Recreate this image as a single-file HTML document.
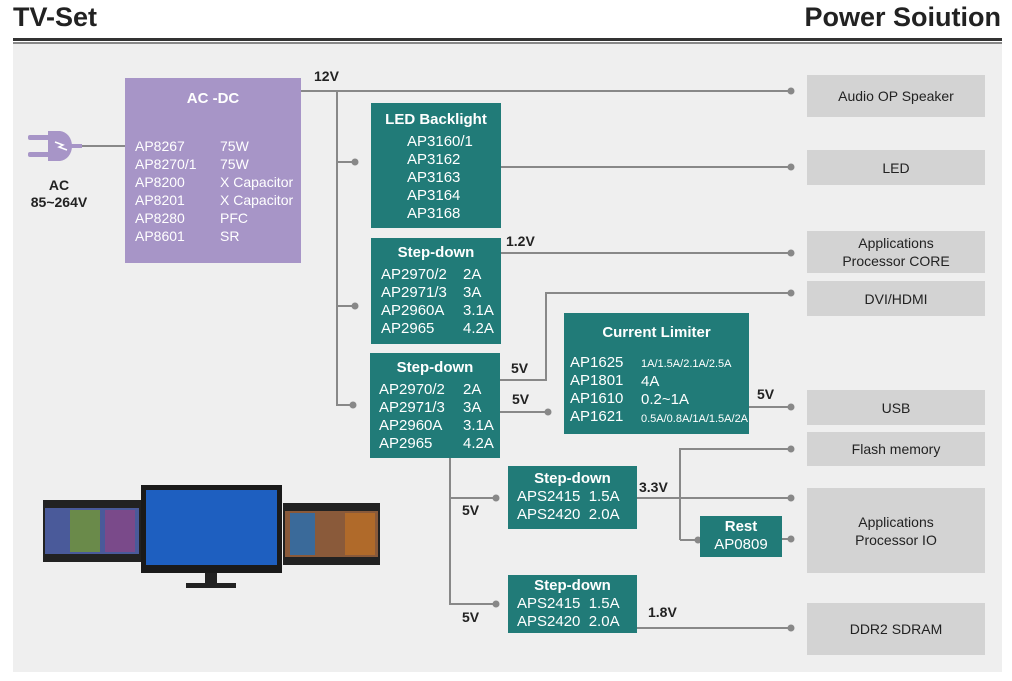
<!DOCTYPE html>
<html><head><meta charset="utf-8"><style>
*{margin:0;padding:0;box-sizing:border-box}
body{width:1012px;height:681px;background:#fff;position:relative;overflow:hidden;font-family:"Liberation Sans",Arial,sans-serif}
.a{position:absolute}
.t{background:#217b78;color:#fff;font-size:15px;line-height:18px}
.t b{display:block;text-align:center;font-size:15px}
.g{background:#d3d3d3;color:#222;font-size:14px;display:flex;align-items:center;justify-content:center;text-align:center;line-height:18px}
.lbl{position:absolute;font-size:14px;font-weight:bold;color:#222}
</style></head><body>
<div class="a" style="left:13px;top:2px;font-size:27px;font-weight:bold;color:#222">TV-Set</div>
<div class="a" style="right:11px;top:2px;font-size:27px;font-weight:bold;color:#222">Power Soiution</div>
<div class="a" style="left:13px;top:38px;width:989px;height:3px;background:#333"></div>
<div class="a" style="left:13px;top:42px;width:989px;height:2px;background:#888"></div>
<div class="a" style="left:13px;top:44px;width:989px;height:628px;background:#efefef"></div>

<svg class="a" style="left:0;top:0" width="1012" height="681">
<g stroke="#888" stroke-width="2" fill="none">
<path d="M80 146H125"/>
<path d="M301 91H790"/><path d="M337 91V405H353"/><path d="M337 162H355"/><path d="M337 306H355"/>
<path d="M501 167H790"/><path d="M501 253H790"/>
<path d="M500 380H546V293H790"/><path d="M500 412H548"/>
<path d="M749 407H790"/>
<path d="M450 458V604H496"/><path d="M450 498H496"/>
<path d="M637 498H790"/><path d="M680 540V449H790"/><path d="M680 540H697"/>
<path d="M782 539H790"/>
<path d="M637 628H790"/>
</g>
<g fill="#888">
<circle cx="791" cy="91" r="3.5"/><circle cx="355" cy="162" r="3.5"/><circle cx="355" cy="306" r="3.5"/><circle cx="353" cy="405" r="3.5"/>
<circle cx="791" cy="167" r="3.5"/><circle cx="791" cy="253" r="3.5"/><circle cx="791" cy="293" r="3.5"/><circle cx="548" cy="412" r="3.5"/>
<circle cx="791" cy="407" r="3.5"/><circle cx="496" cy="498" r="3.5"/><circle cx="496" cy="604" r="3.5"/>
<circle cx="791" cy="449" r="3.5"/><circle cx="791" cy="498" r="3.5"/><circle cx="698" cy="540" r="3.5"/><circle cx="791" cy="539" r="3.5"/><circle cx="791" cy="628" r="3.5"/>
</g>
<g fill="#a795c7"><rect x="28" y="135" width="22" height="5" rx="2"/><rect x="28" y="152" width="22" height="5" rx="2"/>
<path d="M48 131h12a13 15 0 0 1 12 15a13 15 0 0 1-12 15h-12z"/><rect x="70" y="144" width="12" height="4"/></g>
<path d="M55 142l8 3-4 2 8 3" stroke="#fff" stroke-width="1.5" fill="none"/>
<rect x="43" y="500" width="98" height="62" fill="#222"/>
<rect x="45" y="508" width="94" height="46" fill="#4a5a9a"/>
<rect x="70" y="510" width="30" height="42" fill="#6a8a4a"/><rect x="105" y="510" width="30" height="42" fill="#7a4a8a"/>
<rect x="283" y="503" width="97" height="62" fill="#222"/>
<rect x="285" y="511" width="93" height="46" fill="#8a5a3a"/><rect x="290" y="513" width="25" height="42" fill="#3a6a9a"/><rect x="345" y="513" width="30" height="42" fill="#b06a2a"/>
<rect x="141" y="485" width="141" height="88" fill="#1a1a1a"/>
<rect x="146" y="490" width="131" height="75" fill="#1e5fc0"/>
<rect x="205" y="573" width="12" height="10" fill="#222"/><rect x="186" y="583" width="50" height="5" fill="#222"/>
</svg>

<div class="a" style="left:125px;top:78px;width:176px;height:185px;background:#a795c7;color:#fff;font-size:14px;line-height:18px">
<div style="text-align:center;font-weight:bold;font-size:15px;margin-top:12px">AC -DC</div>
<div style="position:absolute;left:10px;top:59px">AP8267<br>AP8270/1<br>AP8200<br>AP8201<br>AP8280<br>AP8601</div>
<div style="position:absolute;left:95px;top:59px">75W<br>75W<br>X Capacitor<br>X Capacitor<br>PFC<br>SR</div>
</div>
<div class="a" style="left:24px;top:177px;width:70px;text-align:center;font-size:14px;font-weight:bold;line-height:17px;color:#222">AC<br>85~264V</div>

<div class="a t" style="left:371px;top:103px;width:130px;height:125px;padding-top:8px"><b>LED Backlight</b><div style="padding-left:36px;margin-top:4px">AP3160/1<br>AP3162<br>AP3163<br>AP3164<br>AP3168</div></div>
<div class="a t" style="left:371px;top:238px;width:130px;height:106px;padding-top:6px"><b>Step-down</b><div style="padding-left:10px;margin-top:4px;position:relative">AP2970/2<br>AP2971/3<br>AP2960A<br>AP2965<div style="position:absolute;left:92px;top:0">2A<br>3A<br>3.1A<br>4.2A</div></div></div>
<div class="a t" style="left:370px;top:353px;width:130px;height:105px;padding-top:6px"><b>Step-down</b><div style="padding-left:9px;margin-top:4px;position:relative">AP2970/2<br>AP2971/3<br>AP2960A<br>AP2965<div style="position:absolute;left:93px;top:0">2A<br>3A<br>3.1A<br>4.2A</div></div></div>
<div class="a t" style="left:564px;top:313px;width:185px;height:121px;padding-top:11px"><b>Current Limiter</b><div style="padding-left:6px;margin-top:12px;position:relative">AP1625<br>AP1801<br>AP1610<br>AP1621<div style="position:absolute;left:77px;top:0;white-space:nowrap"><span style="font-size:11px">1A/1.5A/2.1A/2.5A</span><br>4A<br>0.2~1A<br><span style="font-size:11px">0.5A/0.8A/1A/1.5A/2A</span></div></div></div>
<div class="a t" style="left:508px;top:466px;width:129px;height:63px;padding-top:4px"><b>Step-down</b><div style="padding-left:9px">APS2415&nbsp;&nbsp;1.5A<br>APS2420&nbsp;&nbsp;2.0A</div></div>
<div class="a t" style="left:508px;top:575px;width:129px;height:58px;padding-top:2px"><b>Step-down</b><div style="padding-left:9px">APS2415&nbsp;&nbsp;1.5A<br>APS2420&nbsp;&nbsp;2.0A</div></div>
<div class="a t" style="left:700px;top:516px;width:82px;height:41px;text-align:center;padding-top:2px"><b>Rest</b>AP0809</div>

<div class="a g" style="left:807px;top:75px;width:178px;height:42px">Audio OP Speaker</div>
<div class="a g" style="left:807px;top:150px;width:178px;height:35px">LED</div>
<div class="a g" style="left:807px;top:231px;width:178px;height:42px">Applications<br>Processor CORE</div>
<div class="a g" style="left:807px;top:281px;width:178px;height:35px">DVI/HDMI</div>
<div class="a g" style="left:807px;top:390px;width:178px;height:35px">USB</div>
<div class="a g" style="left:807px;top:432px;width:178px;height:34px">Flash memory</div>
<div class="a g" style="left:807px;top:488px;width:178px;height:85px">Applications<br>Processor IO</div>
<div class="a g" style="left:807px;top:603px;width:178px;height:52px">DDR2 SDRAM</div>

<div class="lbl" style="left:314px;top:68px">12V</div>
<div class="lbl" style="left:506px;top:233px">1.2V</div>
<div class="lbl" style="left:511px;top:360px">5V</div>
<div class="lbl" style="left:512px;top:391px">5V</div>
<div class="lbl" style="left:757px;top:386px">5V</div>
<div class="lbl" style="left:639px;top:479px">3.3V</div>
<div class="lbl" style="left:462px;top:502px">5V</div>
<div class="lbl" style="left:462px;top:609px">5V</div>
<div class="lbl" style="left:648px;top:604px">1.8V</div>
</body></html>
